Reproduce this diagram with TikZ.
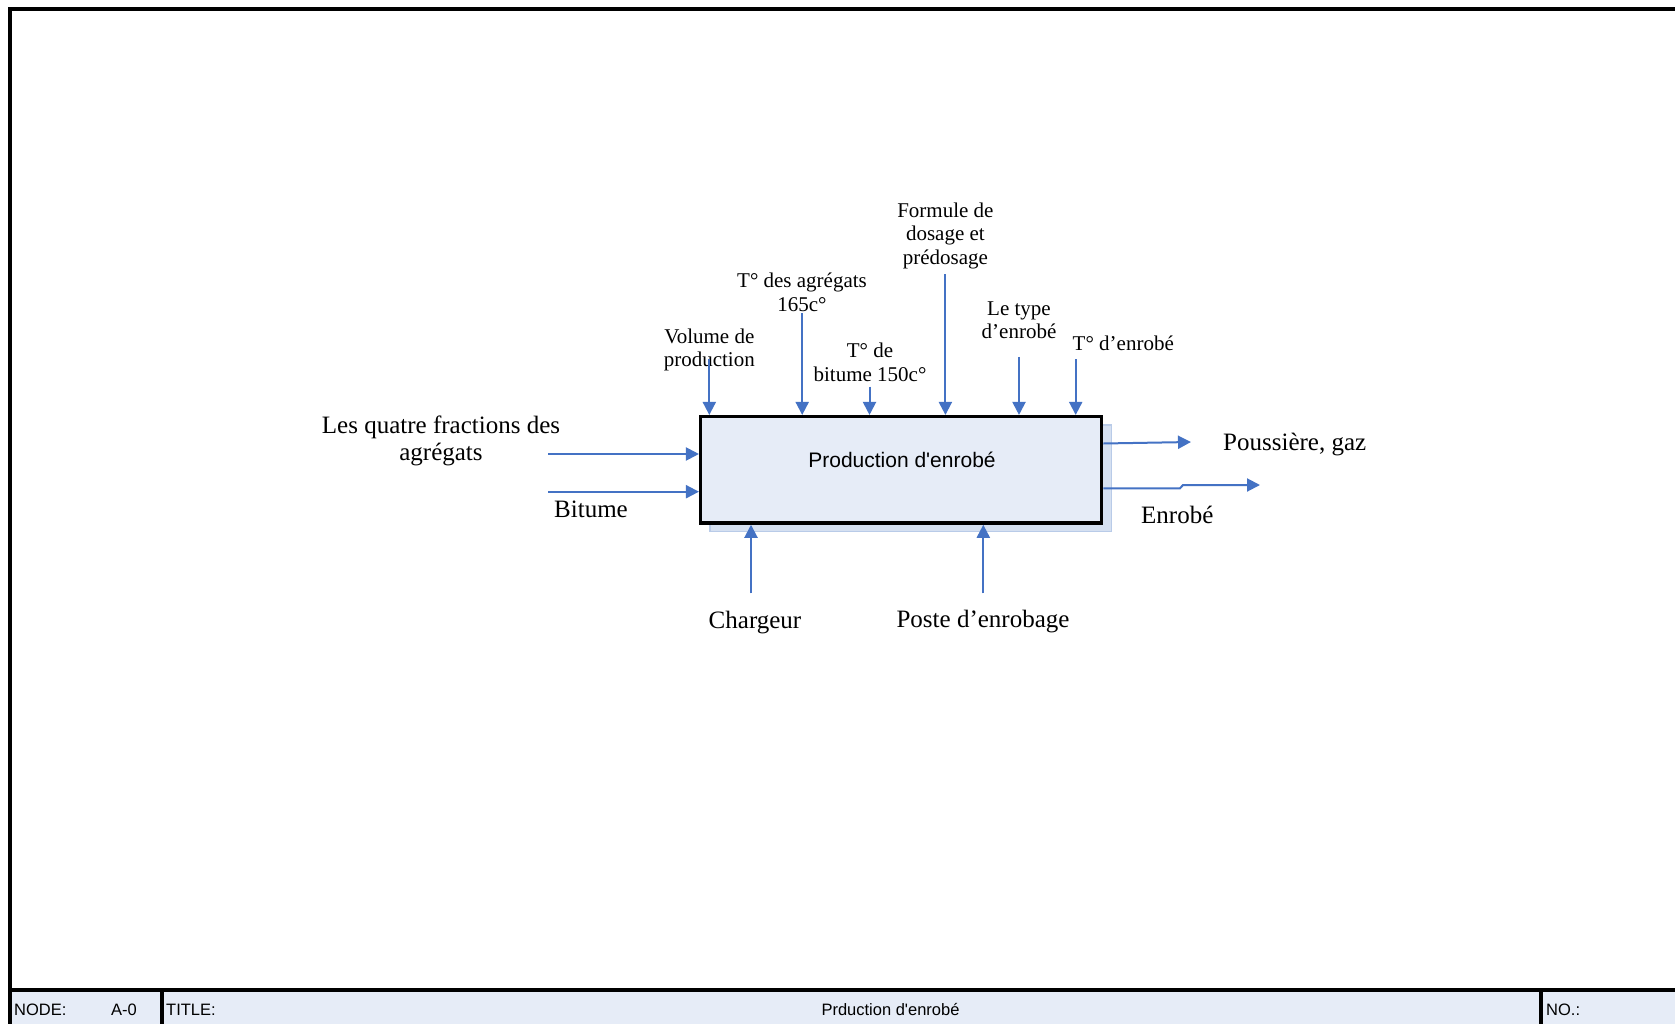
\documentclass[tikz,border=0pt]{standalone}
\usepackage{fontspec}
\setmainfont{Liberation Serif}
\newfontfamily\arial{Liberation Sans}
\usetikzlibrary{arrows.meta}

\definecolor{flow}{HTML}{4472C4}
\definecolor{boxfill}{HTML}{E6ECF7}
\definecolor{shadowfill}{HTML}{D5E0F1}
\definecolor{shadowline}{HTML}{B9CBE8}

\tikzset{
  arr/.style={draw=flow, line width=2pt, -{Triangle[length=13pt,width=13pt]}},
  small/.style={inner sep=0pt, align=center, font=\fontsize{21}{23.5}\selectfont},
  large/.style={inner sep=0pt, align=center, font=\fontsize{25}{27.5}\selectfont},
  bartext/.style={inner sep=0pt, anchor=base west, font=\arial\fontsize{16.5}{18}\selectfont},
  frameline/.style={line width=4pt, black},
}

\begin{document}
\begin{tikzpicture}[x=1pt,y=-1pt]
\clip (0,0) rectangle (1675,1024);
\fill[white] (0,0) rectangle (1675,1024);

% sheet frame
\draw[frameline] (1690,9.5) -- (10,9.5) -- (10,1040);

% title bar
\fill[boxfill] (12,992) rectangle (1690,1040);
\draw[frameline] (10,990) -- (1690,990);
\draw[line width=3.5pt] (162,990) -- (162,1040);
\draw[line width=3.5pt] (1541,990) -- (1541,1040);
\node[bartext] (nodelbl) at (14,1015.5) {NODE:};
\node[bartext] (nodeval) at (111,1015.5) {A-0};
\node[bartext] (titlelbl) at (166,1015.5) {TITLE:};
\node[bartext, anchor=base] (titleval) at (890.5,1015.5) {Prduction d'enrobé};
\node[bartext] (nolbl) at (1546,1015.5) {NO.:};

% activity box with its shadow
\draw[shadowline, fill=shadowfill, line width=1.5pt] (710,425) rectangle (1111.7,531.7);
\node[draw=black, fill=boxfill, line width=3.5pt, rectangle,
      minimum width=401pt, minimum height=106.3pt, inner sep=0pt] (proc) at (901.2,469.85) {};
\node[inner sep=0pt, anchor=base, font=\arial\fontsize{21}{24}\selectfont] (proctext) at (902,467) {Production d'enrobé};

% controls (top)
\node[small, anchor=north] (volume) at (709.3,328.7) {Volume de\\production};
\node[small, anchor=north] (tagg) at (802,273) {T° des agrégats\\165c°};
\node[small, anchor=north] (tbit) at (870,343) {T° de\\bitume 150c°};
\node[small, anchor=north] (formule) at (945.4,202.5) {Formule de\\dosage et\\prédosage};
\node[small, anchor=north] (type) at (1019,301.5) {Le type\\d’enrobé};
\node[small, anchor=base west] (tenr) at (1072.5,350) {T° d’enrobé};

\coordinate (c1) at (709.3,359);
\coordinate (c2) at (802.2,313);
\coordinate (c3) at (869.5,386.7);
\coordinate (c4) at (945.4,274.5);
\coordinate (c5) at (1019,356.8);
\coordinate (c6) at (1075.7,359);
\foreach \c in {c1,c2,c3,c4,c5,c6}
  \draw[arr] (\c) -- (\c |- proc.north);

% inputs (left)
\node[large, anchor=north] (agg) at (441,415.2) {Les quatre fractions des\\agrégats};
\node[large, anchor=base] (bitume) at (591,517) {Bitume};
\coordinate (i1) at (548,454);
\coordinate (i2) at (548,491.7);
\draw[arr] (i1) -- (i1 -| proc.west);
\draw[arr] (i2) -- (i2 -| proc.west);

% outputs (right)
\node[large, anchor=base west] (dust) at (1223,450.5) {Poussière, gaz};
\node[large, anchor=base west] (enrobe) at (1141,523) {Enrobé};
\coordinate (o1) at (1191,442);
\coordinate (o2a) at (1180,488.3);
\coordinate (o2b) at (1183,485);
\coordinate (o2) at (1260,485);
\draw[arr] (proc.east |- 0,443.5) -- (o1);
\draw[arr] (proc.east |- o2a) -- (o2a) -- (o2b) -- (o2);

% mechanisms (bottom)
\node[large, anchor=base] (chargeur) at (755,628) {Chargeur};
\node[large, anchor=base] (poste) at (983,627.5) {Poste d’enrobage};
\coordinate (m1) at (751,593.3);
\coordinate (m2) at (983.3,593.3);
\draw[arr] (m1) -- (m1 |- proc.south);
\draw[arr] (m2) -- (m2 |- proc.south);
\end{tikzpicture}
\end{document}
